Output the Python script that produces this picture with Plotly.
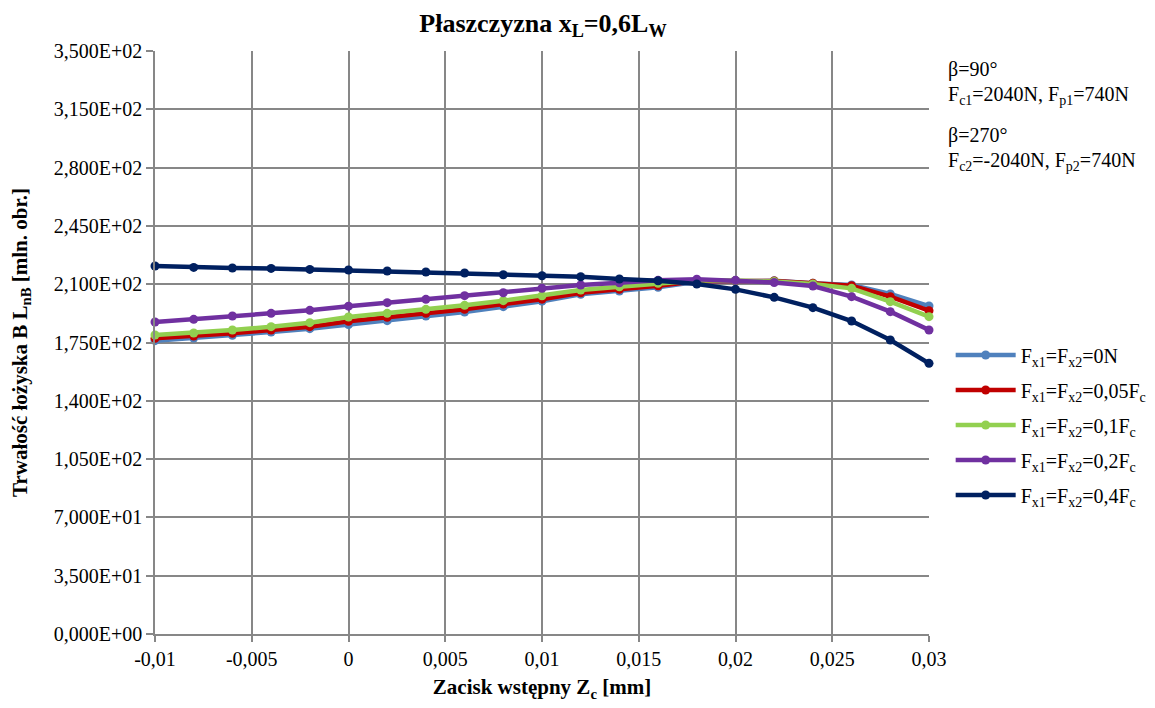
import plotly.graph_objects as go

zc = [-0.01, -0.008, -0.006, -0.004, -0.002, 0.0, 0.002, 0.004, 0.006, 0.008, 0.01,
      0.012, 0.014, 0.016, 0.018, 0.02, 0.022, 0.024, 0.026, 0.028, 0.03]

f_0N = [176.1, 177.7, 179.3, 181.3, 183.3, 185.8, 188.1, 190.9, 193.3, 196.5, 199.8,
        203.9, 205.9, 208.1, 211.4, 211.9, 212.0, 210.6, 209.5, 204.1, 196.9]
f_005 = [177.5, 178.9, 180.5, 182.5, 184.5, 187.7, 190.1, 192.5, 194.9, 198.1, 201.0,
         204.9, 206.9, 209.1, 211.8, 212.0, 211.9, 210.5, 209.1, 202.5, 194.1]
f_01 = [179.5, 180.7, 182.5, 184.5, 186.9, 190.3, 192.5, 194.9, 197.3, 200.1, 203.0,
        206.5, 208.5, 210.5, 212.2, 212.2, 211.6, 210.1, 207.5, 199.5, 190.5]
f_02 = [187.3, 188.9, 190.9, 192.5, 194.3, 196.8, 198.9, 200.9, 203.1, 204.9, 207.6,
        209.5, 210.9, 212.3, 213.0, 212.3, 211.0, 208.9, 202.5, 193.5, 182.5]
f_04 = [220.9, 220.1, 219.7, 219.5, 218.9, 218.5, 217.9, 217.3, 216.7, 215.7, 215.1,
        214.5, 213.1, 212.1, 210.1, 206.9, 202.1, 195.9, 187.9, 176.5, 162.5]

series_names = [
    "F<sub>x1</sub>=F<sub>x2</sub>=0N",
    "F<sub>x1</sub>=F<sub>x2</sub>=0,05F<sub>c</sub>",
    "F<sub>x1</sub>=F<sub>x2</sub>=0,1F<sub>c</sub>",
    "F<sub>x1</sub>=F<sub>x2</sub>=0,2F<sub>c</sub>",
    "F<sub>x1</sub>=F<sub>x2</sub>=0,4F<sub>c</sub>",
]
series_colors = ["#4F81BD", "#C00000", "#92D050", "#7030A0", "#002060"]
series_values = [f_0N, f_005, f_01, f_02, f_04]

y_tickvals = [0, 35, 70, 105, 140, 175, 210, 245, 280, 315, 350]
y_ticktext = ["0,000E+00", "3,500E+01", "7,000E+01", "1,050E+02", "1,400E+02",
              "1,750E+02", "2,100E+02", "2,450E+02", "2,800E+02", "3,150E+02", "3,500E+02"]
x_tickvals = [-0.01, -0.005, 0, 0.005, 0.01, 0.015, 0.02, 0.025, 0.03]
x_ticktext = ["-0,01", "-0,005", "0", "0,005", "0,01", "0,015", "0,02", "0,025", "0,03"]

info_lines = [
    "β=90°",
    "F<sub>c1</sub>=2040N, F<sub>p1</sub>=740N",
    "β=270°",
    "F<sub>c2</sub>=-2040N, F<sub>p2</sub>=740N",
]
info_y = [0.968, 0.924, 0.855, 0.810]

FONT = "Liberation Serif"
FS = 20

fig = go.Figure()
for i, (name, col, vals) in enumerate(zip(series_names, series_colors, series_values)):
    fig.add_trace(go.Scatter(
        x=zc, y=vals, name=name, mode="lines+markers",
        line=dict(color=col, width=4.5),
        marker=dict(color=col, size=9),
        cliponaxis=False,
        legendgroup=f"g{i}",
    ))

grid = "#878787"
fig.update_layout(
    width=1147, height=700,
    paper_bgcolor="white", plot_bgcolor="white",
    margin=dict(l=147, r=226, t=43, b=74, autoexpand=False),
    font=dict(family=FONT, size=FS, color="black"),
    title=dict(text="<b>Płaszczyzna x<sub>L</sub>=0,6L<sub>W</sub></b>",
               x=0.4664, xanchor="center", y=0.979, yanchor="middle",
               font=dict(family=FONT, size=26, color="black")),
    showlegend=True,
    legend=dict(x=1.028, xanchor="left", y=0.512, yanchor="top",
                font=dict(family=FONT, size=FS, color="black"),
                traceorder="grouped", tracegroupgap=6,
                bgcolor="rgba(0,0,0,0)", itemwidth=60),
    xaxis=dict(range=[-0.01, 0.03], tickvals=x_tickvals, ticktext=x_ticktext,
               showgrid=True, gridcolor=grid, gridwidth=1.5,
               showline=True, linecolor=grid, linewidth=1.5,
               ticks="outside", ticklen=6, tickcolor=grid, tickwidth=1.5,
               zeroline=False, automargin=False,
               tickfont=dict(family=FONT, size=FS, color="black"),
               title=dict(text="<b>Zacisk wstępny Z<sub>c</sub> [mm]</b>",
                          font=dict(family=FONT, size=21, color="black"), standoff=11)),
    yaxis=dict(range=[0, 350], tickvals=y_tickvals, ticktext=y_ticktext,
               showgrid=True, gridcolor=grid, gridwidth=1.5,
               showline=True, linecolor=grid, linewidth=1.5,
               ticks="outside", ticklen=7, tickcolor=grid, tickwidth=1.5,
               zeroline=False, automargin=False,
               tickfont=dict(family=FONT, size=FS, color="black"),
               title=dict(text="<b>Trwałość łożyska B L<sub>nB</sub> [mln. obr.]</b>",
                          font=dict(family=FONT, size=21, color="black"), standoff=26)),
)

for txt, yy in zip(info_lines, info_y):
    fig.add_annotation(
        xref="paper", yref="paper", x=1.022, y=yy, xanchor="left", yanchor="middle",
        align="left", showarrow=False, text=txt,
        font=dict(family=FONT, size=20, color="black"),
    )

fig.write_html("out.html")
